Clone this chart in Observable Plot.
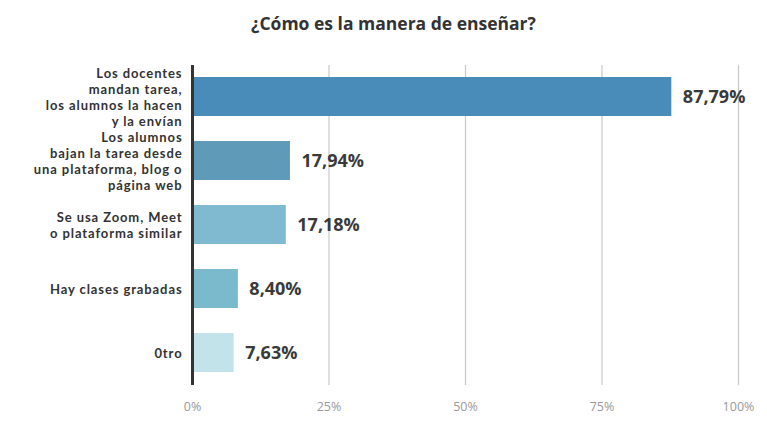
<!DOCTYPE html>
<html><head><meta charset="utf-8">
<script src="https://cdn.jsdelivr.net/npm/d3@7"></script>
<script src="https://cdn.jsdelivr.net/npm/@observablehq/plot@0.6"></script>
<style>
body{margin:0;background:#fff;font-family:"Open Sans",sans-serif;}
#title{height:45px;line-height:46px;text-align:center;font-size:17.5px;font-weight:700;color:#333;padding-left:20px;box-sizing:border-box;}
#chart g[font-family^="Lato"] text{letter-spacing:0.9px;}
</style></head>
<body>
<div id="title">¿Cómo es la manera de enseñar?</div>
<div id="chart"></div>
<script>
const categories = [
  "Los docentes\nmandan tarea,\nlos alumnos la hacen\ny la envían",
  "Los alumnos\nbajan la tarea desde\nuna plataforma, blog o\npágina web",
  "Se usa Zoom, Meet\no plataforma similar",
  "Hay clases grabadas",
  "0tro"
];
const values = [87.79, 17.94, 17.18, 8.40, 7.63];
const valueLabels = ["87,79%", "17,94%", "17,18%", "8,40%", "7,63%"];
const colors = ["#4a8cb9", "#5f9bb9", "#80bad0", "#7bb9cd", "#c2e3ea"];
const ticks = [0, 25, 50, 75, 100];
const tickLabels = ["0%", "25%", "50%", "75%", "100%"];

const data = categories.map((c, i) => ({cat: c, value: values[i], label: valueLabels[i], color: colors[i]}));

const chart = Plot.plot({
  width: 767,
  height: 391,
  marginLeft: 192,
  marginRight: 29,
  marginTop: 20,
  marginBottom: 51,
  style: {fontFamily: "Open Sans, sans-serif", background: "#fff"},
  x: {domain: [0, 100], axis: null},
  y: {domain: categories, axis: null, paddingInner: 0.39, paddingOuter: 0.195},
  marks: [
    Plot.ruleX(ticks.filter(t => t > 0), {stroke: "#c8c8c8", strokeWidth: 1.2}),
    Plot.barX(data, {x: "value", y: "cat", fill: "color"}),
    Plot.ruleX([0], {stroke: "#333", strokeWidth: 3}),
    Plot.text(data, {x: "value", y: "cat", text: "label", textAnchor: "start", dx: 11, fontSize: 18, fontWeight: 700, fill: "#3a3a3a"}),
    Plot.text(data, {x: 0, y: "cat", text: "cat", textAnchor: "end", dx: -10, fontFamily: "Lato, sans-serif", fontSize: 13, fontWeight: 700, fill: "#333", lineHeight: 1.21}),
    Plot.text(ticks, {x: d => d, frameAnchor: "bottom", text: (d, i) => tickLabels[i], dy: 25, fontSize: 12.5, fill: "#999"})
  ]
});
document.getElementById("chart").appendChild(chart);
</script>
</body></html>
